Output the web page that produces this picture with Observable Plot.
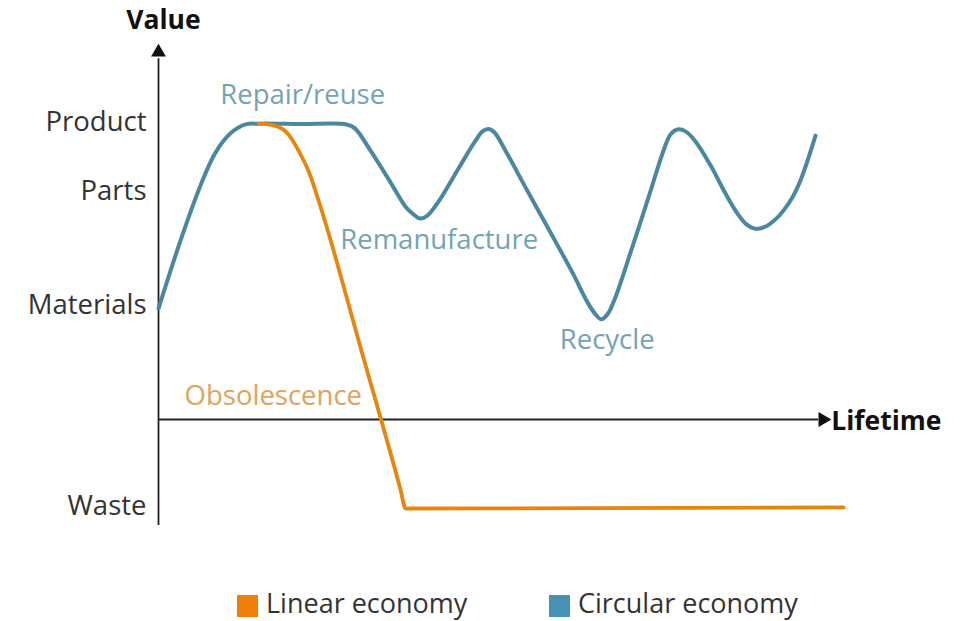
<!DOCTYPE html>
<html>
<head>
<meta charset="utf-8">
<script src="https://cdn.jsdelivr.net/npm/d3@7"></script>
<script src="https://cdn.jsdelivr.net/npm/@observablehq/plot@0.6"></script>
<style>
  html, body { margin: 0; padding: 0; background: #fff; }
  body { width: 961px; height: 621px; overflow: hidden; font-family: "Open Sans", sans-serif; }
  #legend { position: absolute; left: 0; top: 584px; width: 961px; height: 37px; font-family: "Open Sans", sans-serif; font-size: 27px; line-height: 37px; color: #333; }
  .item { position: absolute; top: 0; display: flex; align-items: center; height: 37px; white-space: nowrap; }
  .sw { width: 21px; height: 22px; margin-right: 8px; margin-top: 6px; }
</style>
</head>
<body>
<div id="chart"></div>
<div id="legend"></div>
<script>
// Value levels (y axis tick labels)
const levelNames = ["Waste", "Materials", "Parts", "Product"];
const levelValues = [0.5, 52.6, 82.1, 100];

// Circular economy curve (lifetime, value)
const circularX = [0, 3.14, 6.0, 8.14, 10.29, 12.43, 14.29, 20.29, 26.86, 28.0, 30.29, 33.14, 35.29, 36.43, 37.43, 38.43, 40.0, 42.86, 45.29, 46.29, 47.14, 48.0, 49.57, 52.43, 56.0, 59.14, 61.29, 62.43, 63.29, 64.14, 65.14, 67.43, 70.0, 72.14, 73.14, 74.14, 75.29, 76.71, 78.86, 81.0, 82.71, 84.0, 85.14, 86.43, 88.14, 90.29, 91.71, 93.86];
const circularY = [51.8, 69.4, 83.7, 92.2, 97.2, 99.5, 99.7, 99.6, 99.5, 98.6, 92.7, 84.5, 78.2, 76.2, 75.1, 75.9, 79.5, 88.1, 95.3, 97.7, 98.3, 97.4, 92.7, 83.2, 71.5, 61.1, 53.4, 50.3, 49.0, 50.3, 54.1, 66.3, 80.6, 92.7, 96.9, 98.2, 97.7, 95.1, 88.9, 81.6, 76.4, 73.6, 72.5, 72.8, 74.9, 79.8, 85.0, 96.6];

// Linear economy curve (lifetime, value)
const linearX = [14.29, 16.57, 18.43, 20.0, 21.57, 23.14, 28.86, 34.57, 35.29, 97.86];
const linearY = [99.7, 99.2, 97.2, 92.7, 86.8, 78.2, 41.7, 4.9, 0, 0.3];

// Stage annotations
const annoText = ["Repair/reuse", "Remanufacture", "Recycle", "Obsolescence"];
const annoX = [20.6, 40.1, 64.1, 16.4];
const annoY = [107.0, 69.4, 43.5, 29.0];
const annoSeries = ["Circular economy", "Circular economy", "Circular economy", "Linear economy"];

// Series
const seriesNames = ["Linear economy", "Circular economy"];
const lineColors = ["#e8850f", "#4b87a0"];
const labelColors = ["#e0a35a", "#74a3b5"];
const swatchColors = ["#f07f0a", "#4a92b3"];

const circular = circularX.map((x, i) => ({x, y: circularY[i]}));
const linear = linearX.map((x, i) => ({x, y: linearY[i]}));
const annos = annoText.map((t, i) => ({t, x: annoX[i], y: annoY[i], c: labelColors[seriesNames.indexOf(annoSeries[i])]}));
const nameOf = new Map(levelValues.map((v, i) => [v, levelNames[i]]));

const AXIS_Y = 23.06;   // value where the Lifetime axis crosses

const chart = Plot.plot({
  width: 961,
  height: 575,
  marginLeft: 158,
  marginRight: 103,
  marginTop: 122,
  marginBottom: 67,
  x: {domain: [0, 100], axis: null},
  y: {domain: [0, 100], axis: null},
  style: {fontFamily: "Open Sans", overflow: "visible", background: "#fff"},
  marks: [
    Plot.axisY({ticks: levelValues, tickFormat: d => nameOf.get(d), tickSize: 0, tickPadding: 12, fontSize: 27.5, fill: "#333", anchor: "left", label: null}),
    Plot.ruleX([0], {y1: -4.4, y2: 116.5, stroke: "#222", strokeWidth: 1.8}),
    Plot.ruleY([AXIS_Y], {x1: 0, x2: 94.3, stroke: "#222", strokeWidth: 1.8}),
    Plot.dot([{x: 0, y: 118.2}], {x: "x", y: "y", symbol: "triangle", r: 5.5, fill: "#111", stroke: null}),
    Plot.dot([{x: 94.9, y: AXIS_Y}], {x: "x", y: "y", symbol: "triangle", r: 5.5, fill: "#111", stroke: null, rotate: 90}),
    Plot.text(["Value"], {x: 0.7, y: 126.4, text: d => d, fontSize: 26.5, fontWeight: "bold", fill: "#111"}),
    Plot.text(["Lifetime"], {x: 96.1, y: 22.6, text: d => d, fontSize: 26.5, fontWeight: "bold", fill: "#111", textAnchor: "start"}),
    Plot.line(circular, {x: "x", y: "y", stroke: lineColors[1], strokeWidth: 4, curve: "catmull-rom"}),
    Plot.line(linear, {x: "x", y: "y", stroke: lineColors[0], strokeWidth: 3.8, curve: "monotone-x"}),
    Plot.text(annos, {x: "x", y: "y", text: "t", fill: "c", fontSize: 27.5})
  ]
});
document.getElementById("chart").appendChild(chart);

// Legend
const legendLeft = [237, 549];
const legend = document.getElementById("legend");
seriesNames.forEach((name, i) => {
  const item = document.createElement("div");
  item.className = "item";
  item.style.left = legendLeft[i] + "px";
  const sw = document.createElement("div");
  sw.className = "sw";
  sw.style.background = swatchColors[i];
  const label = document.createElement("span");
  label.textContent = name;
  item.appendChild(sw);
  item.appendChild(label);
  legend.appendChild(item);
});
</script>
</body>
</html>
